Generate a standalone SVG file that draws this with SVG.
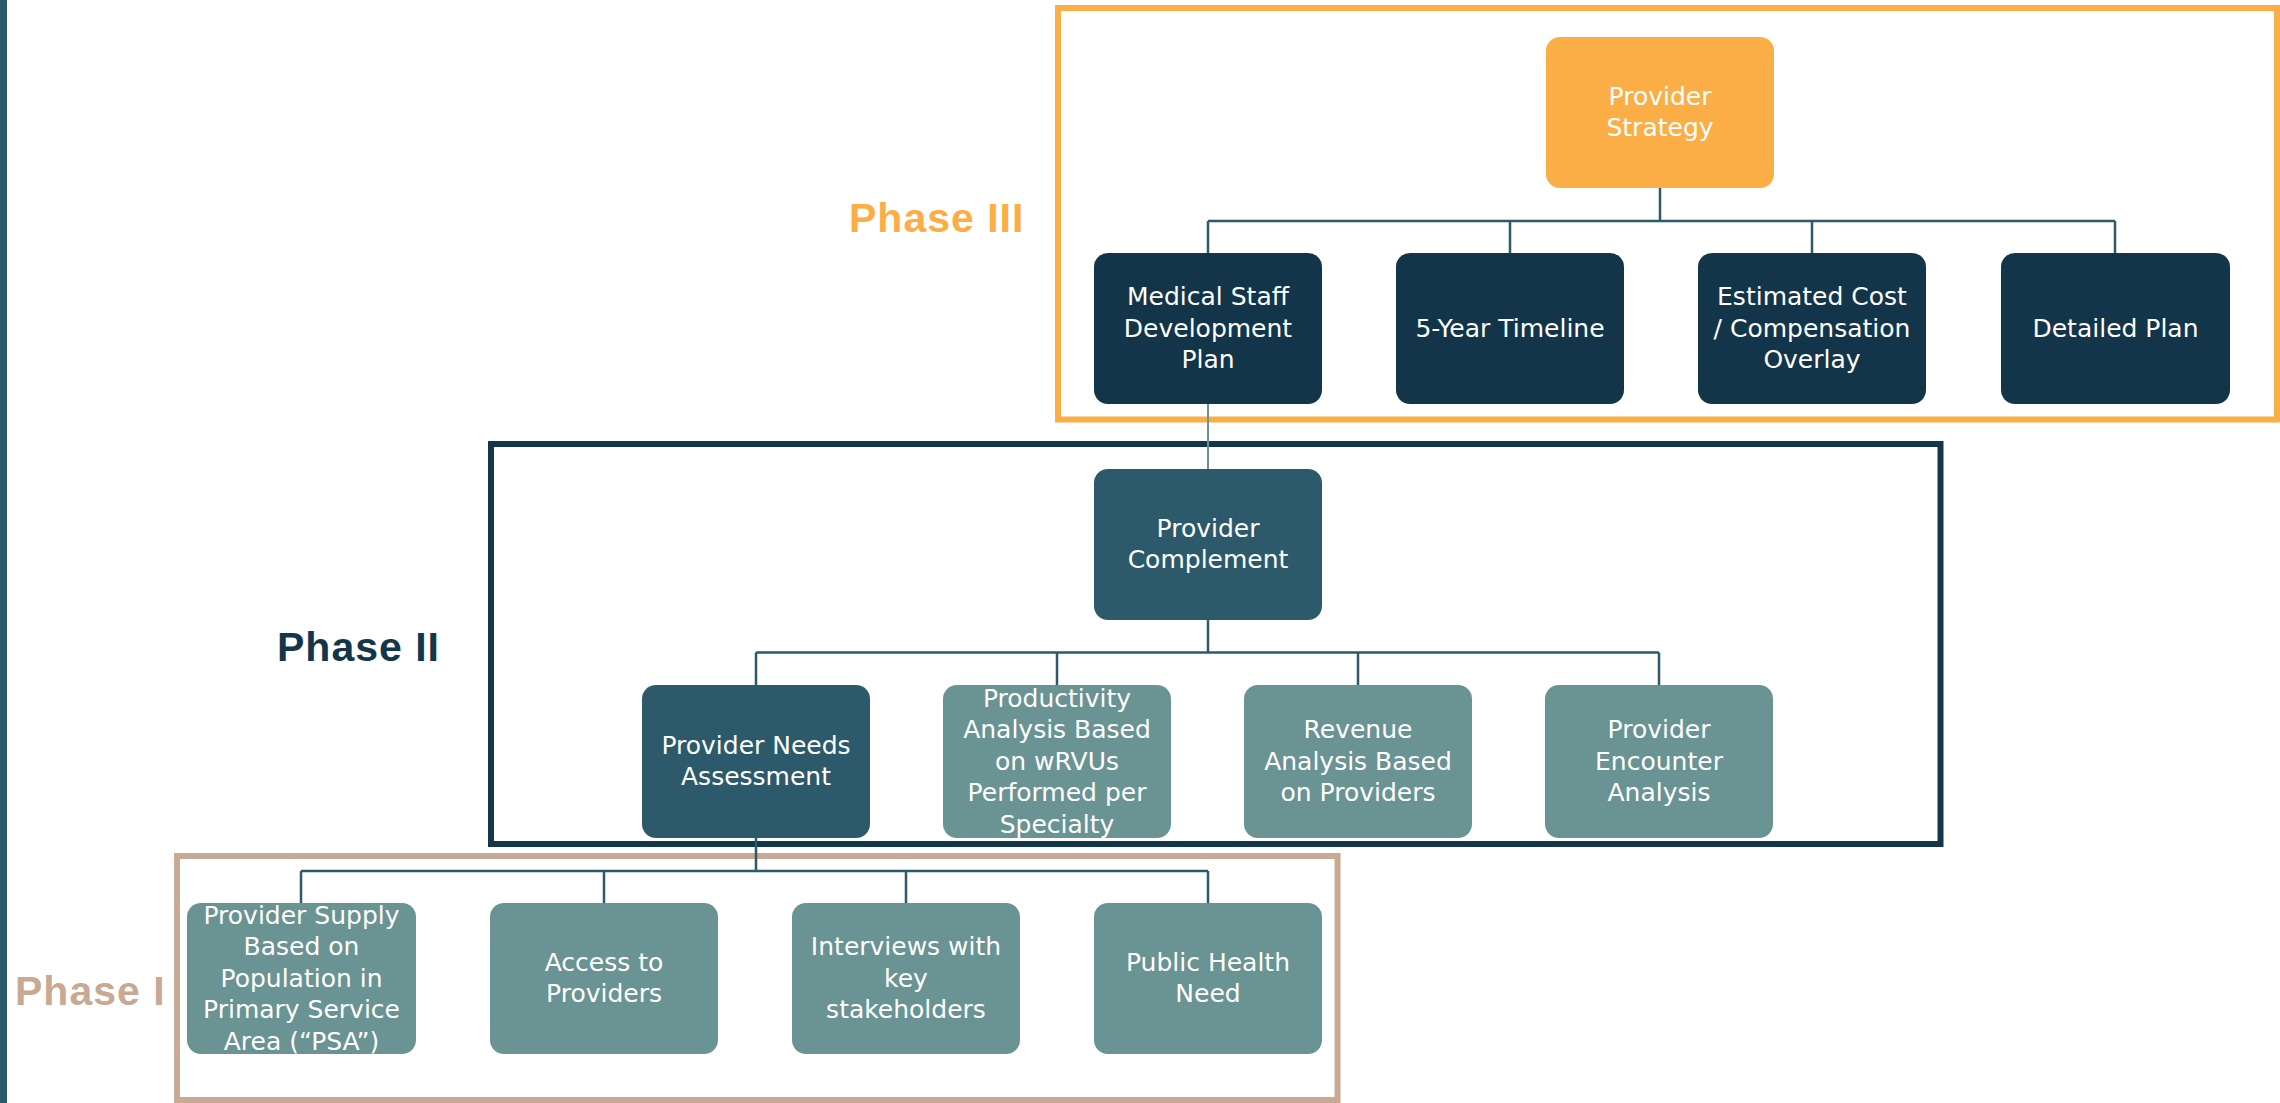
<svg xmlns="http://www.w3.org/2000/svg" width="2280" height="1103" viewBox="0 0 2280 1103">
<style>
.n text{font-family:"DejaVu Sans","Liberation Sans",sans-serif;font-size:25px;fill:#ffffff;text-anchor:middle}
.phase{font-family:"Liberation Sans",Arial,sans-serif;font-weight:bold;font-size:41px;letter-spacing:1px}
.c{fill:none;stroke:#2C5A6A;stroke-width:2.5}
.frame{fill:none;stroke-width:6}
.orange rect{fill:#FBAE45}
.navy rect{fill:#133549}
.teal rect{fill:#2C5A6A}
.light rect{fill:#6A9393}
</style>
<rect width="2280" height="1103" fill="#ffffff"/>
<rect id="left-bar" x="0" y="0" width="7" height="1103" fill="#2C5A6A"/>

<g id="frames">
<rect class="frame" x="1058" y="8" width="1219" height="411.5" stroke="#FBAE45"/>
<rect class="frame" x="491" y="444" width="1449.5" height="400" stroke="#14364A"/>
<rect class="frame" x="177" y="856" width="1160.5" height="244" stroke="#C8A993"/>
</g>

<g id="phase-labels">
<text class="phase" x="849" y="232" fill="#FBAE45">Phase III</text>
<text class="phase" x="277" y="661" fill="#14364A">Phase II</text>
<text class="phase" x="15" y="1005" fill="#C8A993">Phase I</text>
</g>

<g id="connectors">
<path class="c" d="M1660 188V221M1208 221H2115M1208 221V253M1510 221V253M1812 221V253M2115 221V253"/>
<path class="c" d="M1208 404V469" stroke="#6A9393" style="stroke:#6A9393;stroke-width:2"/>
<path class="c" d="M1208 620V652.5M756 652.5H1659M756 652.5V685M1057 652.5V685M1358 652.5V685M1659 652.5V685"/>
<path class="c" d="M756 838V871M301 871H1208M301 871V903M604 871V903M906 871V903M1208 871V903"/>
</g>

<g id="provider-strategy" class="n orange">
<rect x="1546" y="37" width="228" height="151" rx="14"/>
<text x="1660" y="104.75">Provider</text>
<text x="1660" y="136.25">Strategy</text>
</g>
<g id="medical-staff" class="n navy">
<rect x="1094" y="253" width="228" height="151" rx="14"/>
<text x="1208" y="305">Medical Staff</text>
<text x="1208" y="336.5">Development</text>
<text x="1208" y="368">Plan</text>
</g>
<g id="timeline" class="n navy">
<rect x="1396" y="253" width="228" height="151" rx="14"/>
<text x="1510" y="336.5">5-Year Timeline</text>
</g>
<g id="estimated-cost" class="n navy">
<rect x="1698" y="253" width="228" height="151" rx="14"/>
<text x="1812" y="305">Estimated Cost</text>
<text x="1812" y="336.5">/ Compensation</text>
<text x="1812" y="368">Overlay</text>
</g>
<g id="detailed-plan" class="n navy">
<rect x="2001" y="253" width="229" height="151" rx="14"/>
<text x="2115.5" y="336.5">Detailed Plan</text>
</g>

<g id="provider-complement" class="n teal">
<rect x="1094" y="469" width="228" height="151" rx="14"/>
<text x="1208" y="536.75">Provider</text>
<text x="1208" y="568.25">Complement</text>
</g>
<g id="needs-assessment" class="n teal">
<rect x="642" y="685" width="228" height="153" rx="14"/>
<text x="756" y="753.75">Provider Needs</text>
<text x="756" y="785.25">Assessment</text>
</g>
<g id="productivity" class="n light">
<rect x="943" y="685" width="228" height="153" rx="14"/>
<text x="1057" y="706.5">Productivity</text>
<text x="1057" y="738">Analysis Based</text>
<text x="1057" y="769.5">on wRVUs</text>
<text x="1057" y="801">Performed per</text>
<text x="1057" y="832.5">Specialty</text>
</g>
<g id="revenue" class="n light">
<rect x="1244" y="685" width="228" height="153" rx="14"/>
<text x="1358" y="738">Revenue</text>
<text x="1358" y="769.5">Analysis Based</text>
<text x="1358" y="801">on Providers</text>
</g>
<g id="encounter" class="n light">
<rect x="1545" y="685" width="228" height="153" rx="14"/>
<text x="1659" y="738">Provider</text>
<text x="1659" y="769.5">Encounter</text>
<text x="1659" y="801">Analysis</text>
</g>

<g id="provider-supply" class="n light">
<rect x="187" y="903" width="229" height="151" rx="14"/>
<text x="301.5" y="923.5">Provider Supply</text>
<text x="301.5" y="955">Based on</text>
<text x="301.5" y="986.5">Population in</text>
<text x="301.5" y="1018">Primary Service</text>
<text x="301.5" y="1049.5">Area (“PSA”)</text>
</g>
<g id="access" class="n light">
<rect x="490" y="903" width="228" height="151" rx="14"/>
<text x="604" y="970.75">Access to</text>
<text x="604" y="1002.25">Providers</text>
</g>
<g id="interviews" class="n light">
<rect x="792" y="903" width="228" height="151" rx="14"/>
<text x="906" y="955">Interviews with</text>
<text x="906" y="986.5">key</text>
<text x="906" y="1018">stakeholders</text>
</g>
<g id="public-health" class="n light">
<rect x="1094" y="903" width="228" height="151" rx="14"/>
<text x="1208" y="970.75">Public Health</text>
<text x="1208" y="1002.25">Need</text>
</g>
</svg>
